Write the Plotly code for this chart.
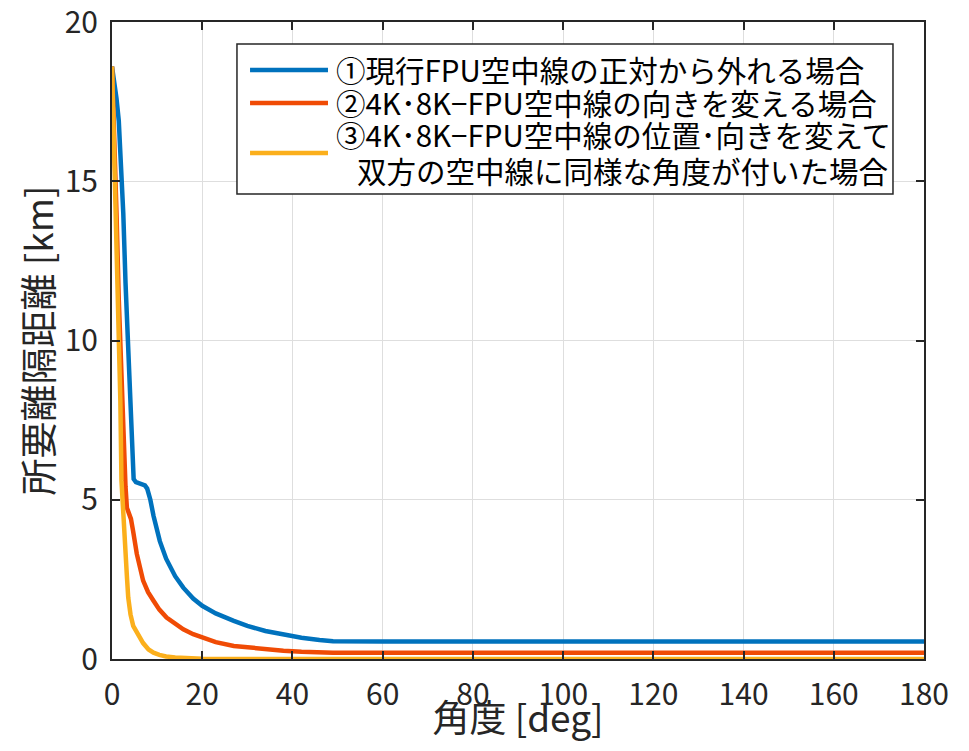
import plotly.graph_objects as go

# ---- data ----
angle_1 = [0, 0.5, 1, 1.5, 2, 2.5, 3, 3.5, 4, 4.5, 4.8, 5.3, 6.3, 7.3, 7.8, 8.5, 9.2, 10, 10.6,
           12, 12.9, 14, 15.8, 18, 20, 23, 27, 30, 34, 38, 42, 46, 49, 60, 180]
dist_1 = [18.6, 18.2, 17.6, 16.9, 15.6, 14.0, 11.8, 10.0, 8.4, 6.9, 5.65, 5.55, 5.5, 5.45, 5.35,
          5.0, 4.5, 4.0, 3.7, 3.15, 2.9, 2.6, 2.24, 1.9, 1.67, 1.43, 1.2, 1.04, 0.88, 0.76, 0.67,
          0.6, 0.56, 0.55, 0.55]

angle_2 = [0, 0.5, 1, 1.5, 2, 2.5, 3, 3.3, 3.8, 4.2, 4.7, 5.5, 6.9, 8, 9.2, 10.5, 12.1, 14,
           15.8, 18, 20, 23, 27, 30, 34, 38, 42, 46, 49, 180]
dist_2 = [18.6, 16.6, 14.0, 11.3, 9.0, 7.1, 5.4, 4.75, 4.6, 4.4, 4.0, 3.3, 2.46, 2.1, 1.83, 1.55,
          1.3, 1.1, 0.93, 0.78, 0.67, 0.53, 0.41, 0.36, 0.31, 0.26, 0.23, 0.21, 0.2, 0.2]

angle_3 = [0, 0.5, 1, 1.5, 1.85, 2.1, 2.6, 2.9, 3.3, 3.6, 4.1, 4.7, 5.6, 6.9, 8.1, 9.2, 10.5,
           12, 14, 16, 20, 30, 180]
dist_3 = [18.6, 16.0, 13.2, 10.6, 8.1, 5.6, 4.1, 3.5, 2.6, 1.93, 1.4, 1.04, 0.8, 0.5, 0.3, 0.2,
          0.13, 0.08, 0.05, 0.03, 0.01, 0.0, 0.0]

labels = ["①現行FPU空中線の正対から外れる場合",
          "②4K･8K−FPU空中線の向きを変える場合",
          "③4K･8K−FPU空中線の位置･向きを変えて",
          "双方の空中線に同様な角度が付いた場合"]
colors = ["#0072BD", "#F04B05", "#FBAF1C"]

x_ticks = list(range(0, 181, 20))
y_ticks = [0, 5, 10, 15, 20]

FONT = "Noto Sans CJK JP"
INK = "#262626"

fig = go.Figure()
for xs, ys, c, name in zip([angle_1, angle_2, angle_3], [dist_1, dist_2, dist_3], colors,
                           [labels[0], labels[1], labels[2] + labels[3]]):
    fig.add_trace(go.Scatter(x=xs, y=ys, mode="lines", name=name,
                             line=dict(color=c, width=4.5), showlegend=False))

axis_common = dict(showline=True, linecolor=INK, linewidth=2, mirror="ticks",
                   ticks="inside", ticklen=8, tickwidth=2, tickcolor=INK,
                   showgrid=True, gridcolor="#DEDEDE", gridwidth=1, zeroline=False,
                   tickfont=dict(family=FONT, size=30, color=INK), automargin=False,
                   ticklabeloverflow="allow")

fig.update_xaxes(range=[0, 180], tickvals=x_ticks, ticklabelstandoff=8,
                 title=dict(text="角度 [deg]", font=dict(family=FONT, size=37, color=INK),
                            standoff=9),
                 **axis_common)
fig.update_yaxes(range=[0, 20], tickvals=y_ticks, ticklabelstandoff=6,
                 title=dict(text="所要離隔距離 [km]", font=dict(family=FONT, size=37, color=INK),
                            standoff=0),
                 **axis_common)

# ---- legend box drawn in paper coordinates ----
shapes = [dict(type="rect", xref="paper", yref="paper", x0=0.1539, x1=0.9618, y0=0.730, y1=0.9655,
               line=dict(color=INK, width=1.5), fillcolor="white", layer="above")]
for c, yy in zip(colors, [0.9247, 0.8728, 0.7943]):
    shapes.append(dict(type="line", xref="paper", yref="paper", x0=0.170, x1=0.266, y0=yy, y1=yy,
                       line=dict(color=c, width=4.5), layer="above"))
annotations = []
for txt, xx, yy in zip(labels, [0.2734, 0.2734, 0.2734, 0.2993],
                       [0.9255, 0.8745, 0.8245, 0.7675]):
    annotations.append(dict(text=txt, xref="paper", yref="paper", x=xx, y=yy,
                            xanchor="left", yanchor="middle", showarrow=False,
                            font=dict(family=FONT, size=29.5, color="#000000")))

# page body has an 8px margin, so the figure is shrunk to fit the 969x751 window
fig.update_layout(width=953, height=735, template="none",
                  margin=dict(l=104, r=37, t=14, b=84),
                  paper_bgcolor="white", plot_bgcolor="white",
                  shapes=shapes, annotations=annotations, showlegend=False)

fig.write_html("out.html")
